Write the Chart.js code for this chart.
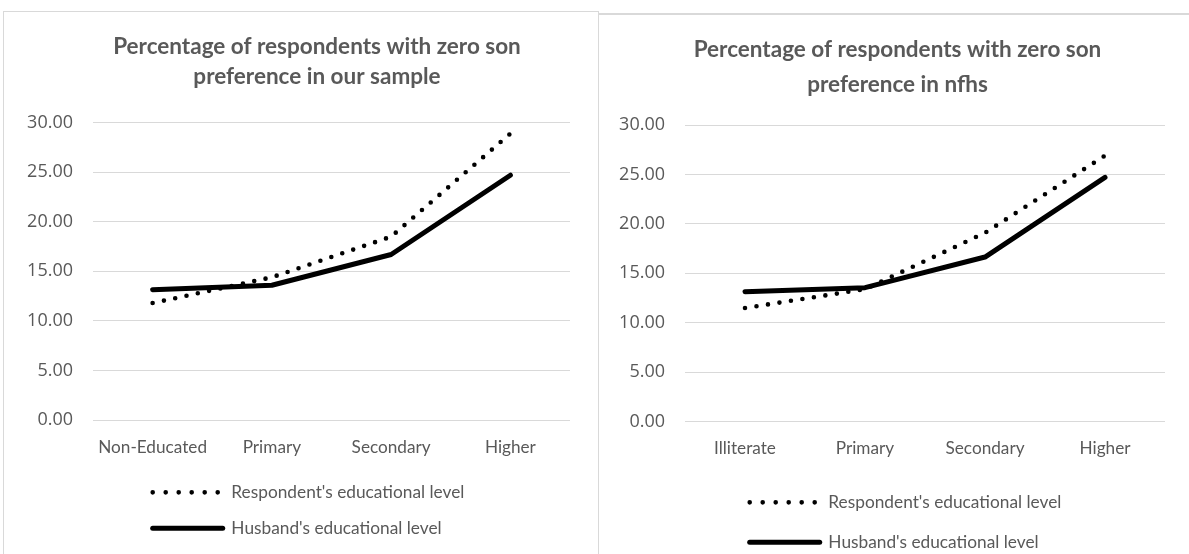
<!DOCTYPE html>
<html>
<head>
<meta charset="utf-8">
<script src="https://cdn.jsdelivr.net/npm/chart.js@4.4.1/dist/chart.umd.min.js"></script>
<style>
  html, body { margin: 0; padding: 0; background: #fff; }
  body { width: 1189px; height: 554px; overflow: hidden; position: relative; }
  .panel { position: absolute; border: 1px solid #d9d9d9; background: #fff; overflow: hidden; }
  #p1 { left: 3px; top: 11px; width: 594px; height: 560px; z-index: 1; }
  #p2 { left: 598px; top: 13px; width: 597px; height: 560px; z-index: 2; border-top: 2px solid #d9d9d9; }
  canvas { display: block; }
</style>
</head>
<body>
<div class="panel" id="p1"><canvas id="c1" width="626" height="542"></canvas></div>
<div class="panel" id="p2"><canvas id="c2" width="597" height="560"></canvas></div>
<script>
// ---- data ----
const categoriesSample = ['Non-Educated', 'Primary', 'Secondary', 'Higher'];
const categoriesNfhs = ['Illiterate', 'Primary', 'Secondary', 'Higher'];
const sampleRespondent = [11.8, 14.4, 18.5, 28.9];
const sampleHusband = [13.15, 13.6, 16.7, 24.7];
const nfhsRespondent = [11.5, 13.4, 19.1, 26.9];
const nfhsHusband = [13.15, 13.55, 16.65, 24.7];
const seriesNames = ["Respondent's educational level", "Husband's educational level"];
const titleSample = ['Percentage of respondents with zero son', 'preference in our sample'];
const titleNfhs = ['Percentage of respondents with zero son', 'preference in nfhs'];
const yMin = 0, yMax = 30, yStep = 5;

const FONT = 'Lato, "Open Sans", sans-serif';
const NUMFONT = '"Open Sans", Lato, sans-serif';
const GREY = '#595959';

function makeChart(id, labels, resp, husb, title, cfg) {
  const legendShift = {
    id: 'legendShift',
    afterLayout(chart) {
      if (chart.legend) chart.legend.left = cfg.legendLeft;
    }
  };
  return new Chart(document.getElementById(id), {
    type: 'line',
    data: {
      labels: labels,
      datasets: [
        {
          label: seriesNames[0],
          data: resp,
          borderColor: '#000',
          backgroundColor: '#000',
          borderWidth: 4.6,
          borderDash: [0, cfg.dotGap],
          borderCapStyle: 'round',
          borderJoinStyle: 'round',
          pointRadius: 0,
          tension: 0,
          fill: false
        },
        {
          label: seriesNames[1],
          data: husb,
          borderColor: '#000',
          backgroundColor: '#000',
          borderWidth: 5,
          borderCapStyle: 'round',
          borderJoinStyle: 'round',
          pointRadius: 0,
          tension: 0,
          fill: false
        }
      ]
    },
    options: {
      responsive: false,
      animation: false,
      devicePixelRatio: 1,
      layout: { padding: { left: 0, right: 0, top: 0, bottom: cfg.padBottom } },
      plugins: {
        title: {
          display: true,
          text: title,
          color: GREY,
          font: { family: FONT, size: 22.5, weight: 'bold', lineHeight: cfg.titleLH },
          padding: { top: cfg.titleTop, bottom: cfg.titleBottom }
        },
        legend: {
          display: true,
          position: 'bottom',
          align: 'start',
          labels: {
            color: GREY,
            font: { family: FONT, size: 17.3 },
            usePointStyle: true,
            pointStyle: 'line',
            pointStyleWidth: 70,
            boxHeight: 17.3,
            padding: cfg.legendPad,
            generateLabels(chart) {
              const items = Chart.defaults.plugins.legend.labels.generateLabels(chart);
              items.forEach(it => {
                const ds = chart.data.datasets[it.datasetIndex];
                it.lineDash = ds.borderDash ? [0, 13] : [];
                it.lineCap = 'round';
                it.lineWidth = ds.borderWidth;
                it.strokeStyle = ds.borderColor;
                it.fillStyle = ds.borderColor;
                it.pointStyle = 'line';
              });
              return items;
            }
          }
        },
        tooltip: { enabled: false }
      },
      scales: {
        x: {
          grid: { display: false, drawTicks: false },
          border: { display: false },
          offset: true,
          ticks: { color: GREY, font: { family: FONT, size: 17.2 }, padding: cfg.xPad, maxRotation: 0, autoSkip: false },
          afterFit(s) { s.height = cfg.xHeight; }
        },
        y: {
          min: yMin,
          max: yMax,
          grid: { color: '#d9d9d9', lineWidth: 1, drawTicks: false },
          border: { display: false },
          ticks: {
            stepSize: yStep,
            color: GREY,
            font: { family: NUMFONT, size: 18 },
            padding: 20,
            callback: v => Number(v).toFixed(2)
          },
          afterFit(s) { s.width = cfg.yWidth; }
        },
        yRightSpace: {
          position: 'right',
          min: yMin,
          max: yMax,
          grid: { display: false, drawTicks: false },
          border: { display: false },
          ticks: { display: false },
          afterFit(s) { s.width = cfg.rightSpace; }
        }
      }
    },
    plugins: [legendShift]
  });
}

makeChart('c1', categoriesSample, sampleRespondent, sampleHusband, titleSample, {
  rightSpace: 60, padBottom: 7, titleLH: 1.333, titleTop: 19.5, titleBottom: 31.2,
  legendPad: 18.7, xPad: 17.5, xHeight: 45, yWidth: 89, legendLeft: 130, dotGap: 11.55
});
makeChart('c2', categoriesNfhs, nfhsRespondent, nfhsHusband, titleNfhs, {
  rightSpace: 31, padBottom: 14, titleLH: 1.556, titleTop: 17, titleBottom: 23,
  legendPad: 22.7, xPad: 16.5, xHeight: 49.3, yWidth: 86, legendLeft: 128, dotGap: 11.62
});
</script>
</body>
</html>
